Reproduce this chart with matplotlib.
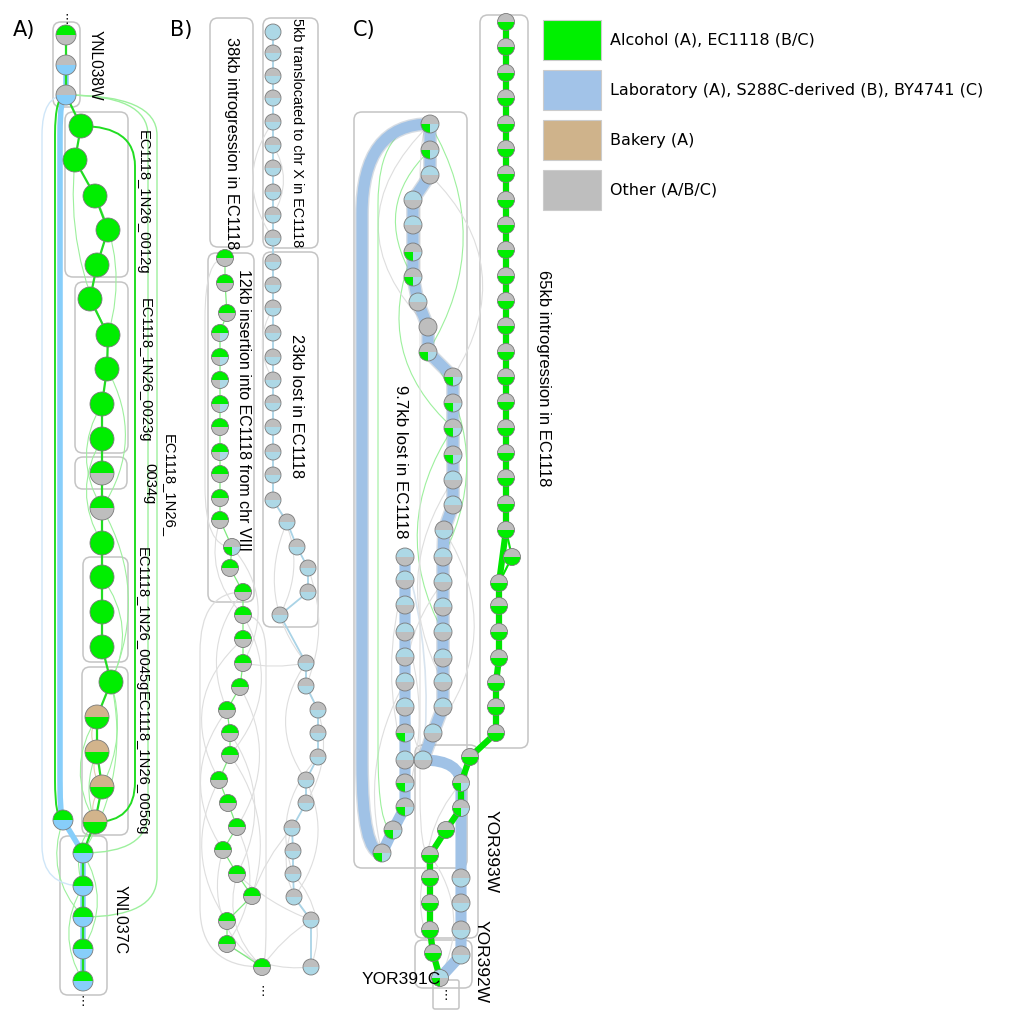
import matplotlib
matplotlib.use('Agg')
import matplotlib.pyplot as plt
from matplotlib.patches import Wedge, Circle, FancyBboxPatch, FancyArrowPatch, PathPatch, Rectangle
from matplotlib.path import Path

# colour codes used in the node strings (top / bottom-right / bottom-left)
COL = {'g': '#00ee00', 'G': '#bebebe', 's': '#87cefa', 'b': '#add8e6', 't': '#d2b48c'}

# ---------------- panel A (pixel layout) ----------------
A_x = [66, 66, 66, 81, 75, 95, 108, 97, 90, 108, 107, 102, 102, 102, 102, 102, 102, 102, 102,
       111, 97, 97, 102, 95, 63, 83, 83, 83, 83, 83]
A_y = [35, 65, 95, 126, 160, 196, 230, 265, 299, 335, 369, 404, 439, 473, 508, 543, 577, 612,
       647, 682, 717, 752, 787, 822, 820, 853, 886, 917, 949, 981]
A_c = ['gG', 'Gs', 'Gs', 'g', 'g', 'g', 'g', 'g', 'g', 'g', 'g', 'g', 'g', 'gG', 'gG', 'g', 'g',
       'g', 'g', 'g', 'tg', 'tg', 'tg', 'tg', 'gs', 'gs', 'gs', 'gs', 'gs', 'gs']
A_green = list(range(0, 24)) + [25, 26, 27, 28, 29]
A_blue = [24, 25, 26, 27, 28, 29]

# ---------------- panel B ----------------
BR_x = [273] * 21 + [287, 297, 308, 308, 280, 306, 306, 318, 318, 318, 306, 306, 292, 293, 293,
                     294, 311, 311]
BR_y = [32, 53, 76, 98, 122, 145, 168, 192, 215, 238, 262, 285, 308, 333, 357, 380, 403, 427,
        452, 475, 500, 522, 547, 568, 592, 615, 663, 686, 710, 733, 757, 780, 803, 828, 851,
        874, 897, 920, 967]
BR_c = ['b'] + ['Gb'] * 38
BL_x = [225, 225, 227, 220, 220, 220, 220, 220, 220, 220, 220, 220, 232, 230, 243, 243, 243,
        243, 240, 227, 230, 230, 219, 228, 237, 223, 237, 252, 227, 227, 262]
BL_y = [258, 283, 313, 333, 357, 380, 404, 427, 452, 474, 498, 520, 547, 568, 592, 615, 639,
        663, 687, 710, 733, 755, 780, 803, 827, 850, 874, 896, 921, 944, 967]
BL_c = ['gG', 'gG', 'gG', 'gbG', 'gbG', 'gbG', 'gbG', 'gG', 'gbG', 'gG', 'gG', 'gG', 'Gbg',
        'gG', 'gG', 'gG', 'gG', 'gG', 'gG', 'gG', 'gG', 'gG', 'gG', 'gG', 'gG', 'gG', 'gG',
        'gG', 'gG', 'gG', 'gG']

# ---------------- panel C ----------------
CG_x = [506] * 21 + [499, 499, 499, 499, 496, 496, 496, 470, 461, 461, 446, 430, 430, 430, 430,
                     433, 440]
CG_y = [22, 47, 73, 98, 124, 149, 174, 200, 225, 250, 276, 301, 326, 352, 377, 402, 428, 453,
        478, 504, 530, 583, 606, 632, 658, 683, 707, 733, 757, 783, 808, 830, 855, 878, 903,
        930, 953, 978]
CG_c = ['Gg'] * 28 + ['Gg', 'Gbg', 'Gbg', 'Gg', 'Gg', 'Gg', 'Gg', 'Gg', 'Gg', 'bGg']
CS_x = [512]
CS_y = [557]
CB_x = [430, 430, 430, 413, 413, 413, 413, 418, 428, 428, 453, 453, 453, 453, 453, 453, 444,
        443, 443, 443, 443, 443, 443, 443, 433, 423]
CB_y = [124, 150, 175, 200, 225, 252, 277, 302, 327, 352, 377, 403, 428, 455, 480, 505, 530,
        557, 582, 607, 632, 658, 682, 707, 733, 760]
CB_c = ['Gbg', 'Gbg', 'bG', 'bG', 'bG', 'Gbg', 'Gbg', 'bG', 'G', 'Gbg', 'Gbg', 'Gbg', 'Gbg',
        'Gbg', 'bG', 'bG', 'Gb', 'bG', 'bG', 'bG', 'bG', 'bG', 'bG', 'bG', 'bG', 'bG']
CL_x = [405] * 11 + [393, 382]
CL_y = [557, 580, 605, 632, 657, 682, 707, 733, 760, 783, 807, 830, 853]
CL_c = ['bG'] * 7 + ['Gbg', 'bG', 'Gbg', 'Gbg', 'Gbg', 'Gbg']
CR_x = [461, 461, 461, 461]
CR_y = [878, 903, 930, 955]

legend_labels = ['Alcohol (A), EC1118 (B/C)', 'Laboratory (A), S288C-derived (B), BY4741 (C)',
                 'Bakery (A)', 'Other (A/B/C)']
legend_colors = ['#00f000', '#a2c3e8', '#cfb38b', '#bebebe']

fig = plt.figure(figsize=(10.29, 10.11), dpi=100)
ax = fig.add_axes([0, 0, 1, 1])
ax.set_xlim(0, 1029)
ax.set_ylim(1011, 0)
ax.axis('off')


def node(x, y, code, r):
    cols = [COL[c] for c in code]
    if len(cols) == 1:
        parts = [(0, 360, cols[0])]
    elif len(cols) == 2:
        parts = [(180, 360, cols[0]), (0, 180, cols[1])]
    else:
        parts = [(180, 360, cols[0]), (0, 90, cols[1]), (90, 180, cols[2])]
    for t1, t2, c in parts:
        ax.add_patch(Wedge((x, y), r, t1, t2, facecolor=c, edgecolor='none', zorder=4))
    ax.add_patch(Circle((x, y), r, fill=False, edgecolor='#7a7a7a', lw=0.6, zorder=5))


def chain(xs, ys, idx, color, lw, z=2, alpha=1):
    ax.plot([xs[i] for i in idx], [ys[i] for i in idx], color=color, lw=lw, zorder=z,
            solid_capstyle='round', solid_joinstyle='round', alpha=alpha)


def lane(p, q, lx, color, lw, s=30, z=1.5, alpha=1):
    (x1, y1), (x2, y2) = p, q
    d = s if y2 > y1 else -s
    verts = [p, (lx, y1), (lx, y1 + d), (lx, y2 - d), (lx, y2), q]
    codes = [Path.MOVETO, Path.CURVE3, Path.CURVE3, Path.LINETO, Path.CURVE3, Path.CURVE3]
    ax.add_patch(PathPatch(Path(verts, codes), fill=False, edgecolor=color, lw=lw, zorder=z,
                           alpha=alpha, capstyle='round'))


def arc(p, q, rad, color, lw=0.8, z=1.2):
    ax.add_patch(FancyArrowPatch(p, q, connectionstyle=f'arc3,rad={rad}', arrowstyle='-',
                                 color=color, lw=lw, shrinkA=0, shrinkB=0, zorder=z))


def box(x0, y0, x1, y1, rs=8):
    ax.add_patch(FancyBboxPatch((x0, y0), x1 - x0, y1 - y0,
                                boxstyle=f'round,pad=0,rounding_size={rs}', fill=False,
                                edgecolor='#c4c4c4', lw=1.1, zorder=0.5))


def vlabel(s, x, y, size=11.3):
    ax.text(x, y, s, rotation=270, ha='center', va='center', fontsize=size,
            family='Liberation Sans', zorder=6)


LG = '#9df09d'   # light green thin edges
LGR = '#dedede'  # light grey thin edges

# ---------- panel A edges ----------
A = list(zip(A_x, A_y))
lane(A[2], A[24], 60, '#87cefa', 4.0, s=40, z=2)
chain(A_x, A_y, [1, 2], '#87cefa', 4.0, z=2)
chain(A_x, A_y, A_blue, '#87cefa', 4.0, z=2)
chain(A_x, A_y, A_green, '#22dd22', 1.6, z=2.5)
lane(A[2], A[24], 55, '#22dd22', 1.4, s=40, z=2.4)
lane(A[23], A[3], 135, '#22dd22', 1.4, s=40, z=2.4)
lane(A[2], A[27], 157, LG, 1.0, s=40)
lane(A[2], A[25], 148, LG, 1.0, s=40)
lane(A[2], A[26], 42, '#cfe6f8', 1.0, s=40)
for i, j, r in [(4, 9, 0.15), (5, 9, -0.2), (10, 14, -0.3), (12, 15, 0.3), (11, 14, 0.3),
                (14, 19, -0.25), (16, 19, -0.3), (19, 22, -0.2), (20, 23, 0.3), (21, 23, 0.2),
                (23, 26, 0.3), (24, 27, 0.3), (25, 28, -0.3), (26, 29, 0.3), (19, 25, -0.2)]:
    arc(A[i], A[j], r, LG)
for i, j in [(20, 21), (21, 22), (22, 23)]:
    arc(A[i], A[j], 0.3, '#e2cdb0')

# ---------- panel B edges ----------
BR = list(zip(BR_x, BR_y))
BL = list(zip(BL_x, BL_y))
chain(BR_x, BR_y, range(len(BR_x)), '#a9d3e6', 1.3, z=2)
chain(BL_x, BL_y, range(len(BL_x)), '#7fea7f', 0.9, z=2)
for i, j, r in [(4, 9, 0.35), (5, 8, -0.3), (12, 15, 0.3), (20, 25, -0.3), (21, 26, 0.3),
                (23, 27, -0.2), (26, 31, 0.35), (27, 32, -0.3), (30, 35, 0.3), (31, 36, -0.3),
                (33, 37, 0.3), (35, 38, -0.3)]:
    arc(BR[i], BR[j], r, LGR)
for i, j, r in [(11, 15, 0.3), (12, 17, -0.35), (14, 19, 0.3), (15, 21, -0.35), (16, 22, 0.4),
                (18, 24, -0.3), (19, 25, 0.35), (20, 26, -0.3), (22, 28, 0.3), (24, 29, -0.3),
                (25, 30, 0.35), (21, 27, -0.25), (26, 30, 0.3)]:
    arc(BL[i], BL[j], r, LGR)
for i, j, r in [(26, 37, 0.1), (27, 33, -0.1), (29, 38, 0.2), (30, 37, -0.1), (17, 26, 0.1)]:
    arc(BL[i], BR[j], r, LGR)
lane(BL[14], BL[30], 200, LGR, 0.9, s=60)
lane(BL[15], BL[30], 266, LGR, 0.9, s=40)
lane(BL[0], BL[12], 205, LGR, 0.8, s=60)

# ---------- panel C edges ----------
CG = list(zip(CG_x, CG_y))
CB = list(zip(CB_x, CB_y))
CL = list(zip(CL_x, CL_y))
CR = list(zip(CR_x, CR_y))
BLUE = '#a0c2e6'
# shadowed thick blue loop
lane(CB[0], CL[-1], 362, '#8c9db0', 10.0, s=90, z=1.8, alpha=0.35)
lane(CB[0], CL[-1], 362, BLUE, 8.0, s=90, z=1.9)
chain(CL_x, CL_y, range(len(CL_x)), BLUE, 8.0, z=1.9)
chain(CB_x, CB_y, range(len(CB_x)), '#8c9db0', 10.0, z=1.8, alpha=0.35)
chain(CB_x, CB_y, range(len(CB_x)), BLUE, 8.0, z=1.9)
lane(CB[-1], CR[0], 461, BLUE, 8.0, s=25, z=1.9)
chain(CR_x + [CG_x[-1]], CR_y + [CG_y[-1]], range(5), BLUE, 8.0, z=1.9)
chain(CG_x, CG_y, range(len(CG_x)), '#00e600', 4.5, z=2.2)
ax.plot([CG_x[20], CS_x[0], CG_x[21]], [CG_y[20], CS_y[0], CG_y[21]], color='#00e600',
        lw=1.5, zorder=2.1)
arc(CB[-1], CL[0], 0.1, '#d8e4ef', 1.2)
for i, j, r in [(0, 9, -0.3), (5, 12, 0.35), (9, 17, -0.3), (1, 6, 0.4), (12, 20, 0.3)]:
    arc(CB[i], CB[j], r, LG)
for i, j, r in [(0, 8, 0.5), (2, 10, -0.4), (14, 22, 0.3), (16, 24, -0.35), (18, 25, 0.3)]:
    arc(CB[i], CB[j], r, LGR)
for i, j, r in [(1, 8, 0.15), (3, 11, -0.2), (5, 12, 0.2)]:
    arc(CL[i], CL[j], r, LGR)
lane(CB[0], CL[-2], 378, LG, 0.8, s=80)
lane(CB[0], CG[-6], 420, LGR, 0.8, s=60)
for i, j, r in [(31, 36, 0.3), (32, 37, -0.3), (29, 34, 0.25)]:
    arc(CG[i], CG[j], r, LGR)

# ---------- nodes ----------
for i, (x, y, c) in enumerate(zip(A_x, A_y, A_c)):
    node(x, y, c, 12 if 3 <= i <= 23 else 10)
for x, y, c in zip(BR_x, BR_y, BR_c):
    node(x, y, c, 8)
for x, y, c in zip(BL_x, BL_y, BL_c):
    node(x, y, c, 8.5)
for x, y, c in zip(CG_x, CG_y, CG_c):
    node(x, y, c, 8.5)
node(CS_x[0], CS_y[0], 'Gg', 8.5)
for x, y, c in zip(CB_x, CB_y, CB_c):
    node(x, y, c, 9)
for x, y, c in zip(CL_x, CL_y, CL_c):
    node(x, y, c, 9)
for x, y in zip(CR_x, CR_y):
    node(x, y, 'Gb', 9)

# ---------- boxes ----------
for b in [(53, 22, 80, 107), (65, 112, 128, 277), (75, 282, 128, 453), (75, 457, 127, 489),
          (83, 557, 128, 662), (82, 667, 128, 835), (60, 836, 107, 995),
          (210, 18, 253, 247), (263, 18, 318, 248), (208, 253, 254, 602), (263, 252, 318, 627),
          (354, 112, 467, 868), (480, 15, 528, 748), (415, 745, 478, 938), (415, 940, 472, 988)]:
    box(*b)
box(433, 980, 459, 1009, rs=2)

# ---------- text ----------
for s, x, y in [('A)', 24, 30), ('B)', 181, 30), ('C)', 364, 30)]:
    ax.text(x, y, s, ha='center', va='center', fontsize=15)
vlabel('YNL038W', 95, 65, 11.2)
vlabel('EC1118_1N26_0012g', 143, 202, 10.6)
vlabel('EC1118_1N26_0023g', 145, 370, 10.6)
vlabel('EC1118_1N26_', 169, 486, 10.6)
vlabel('0034g', 149, 484, 10.6)
vlabel('EC1118_1N26_0045g', 142, 619, 10.6)
vlabel('EC1118_1N26_0056g', 142, 763, 10.6)
vlabel('YNL037C', 120, 920, 11.5)
vlabel('38kb introgression in EC1118', 231, 143, 11.8)
vlabel('5kb translocated to chr X in EC1118', 297, 133, 10.4)
vlabel('12kb insertion into EC1118 from chr VIII', 243, 410, 11.5)
vlabel('23kb lost in EC1118', 297, 406, 11.8)
vlabel('9.7kb lost in EC1118', 401, 462, 12.2)
vlabel('65kb introgression in EC1118', 543, 378, 12)
vlabel('YOR393W', 491, 851, 12.5)
vlabel('YOR392W', 481, 962, 12.5)
ax.text(401, 980, 'YOR391C', ha='center', va='center', fontsize=12.5, family='Liberation Sans',
        zorder=6)
for x, y in [(67, 19), (83, 1001), (263, 991), (446, 995)]:
    ax.text(x, y, '⋮', ha='center', va='center', fontsize=9, zorder=6)

# ---------- legend ----------
for k, (lab, c) in enumerate(zip(legend_labels, legend_colors)):
    ax.add_patch(Rectangle((543, 20 + 50 * k), 58, 40, facecolor=c, edgecolor='#cccccc',
                           lw=0.8, zorder=3))
    ax.text(610, 40 + 50 * k, lab, va='center', ha='left', fontsize=11.5)

fig.savefig('out.png', dpi=100)
